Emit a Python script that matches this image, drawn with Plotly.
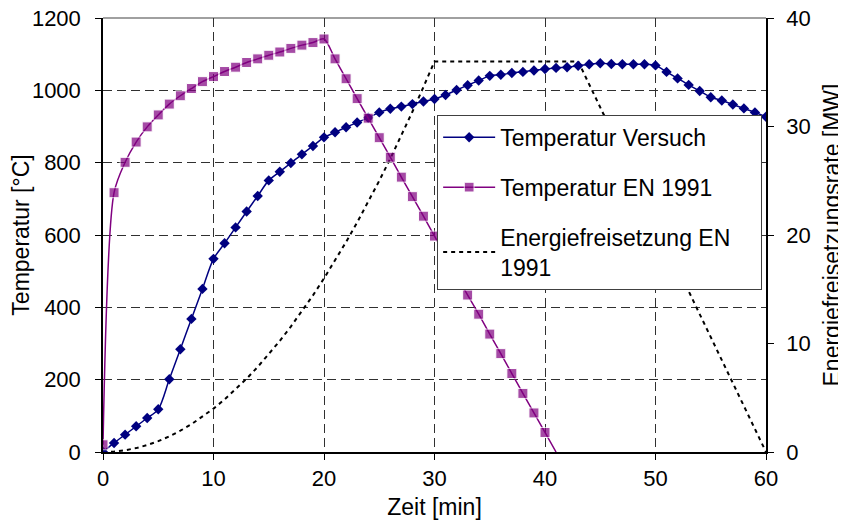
import plotly.graph_objects as go

# ---- data ----
zeit_versuch = list(range(61))
temp_versuch = [0, 25, 48, 71, 94, 118, 201, 284, 368, 451, 534, 577, 621, 665, 708, 751,
                775, 799, 823, 846, 870, 884, 898, 911, 924, 939, 949, 955, 962, 969, 976,
                987, 1001, 1014, 1027, 1040, 1043, 1048, 1051, 1055, 1059, 1062, 1064, 1068,
                1072, 1075, 1073, 1072, 1072, 1072, 1069, 1051, 1033, 1015, 998, 981, 972,
                961, 950, 939, 927]

zeit_en = list(range(42))
temp_en = [20, 717, 801, 857, 899, 932, 962, 985, 1005, 1024, 1038, 1052, 1064, 1077, 1087,
           1097, 1106, 1116, 1125, 1132, 1142, 1087, 1032, 977, 923, 869, 815, 760, 706, 652,
           597, 543, 488, 434, 381, 326, 272, 217, 162, 108, 54, 0]

zeit_energie = list(range(31)) + [43, 60]
energie = [0, 0.04, 0.16, 0.36, 0.64, 1.0, 1.44, 1.96, 2.56, 3.24, 4.0, 4.84, 5.76, 6.76,
           7.84, 9.0, 10.24, 11.56, 12.96, 14.44, 16.0, 17.64, 19.36, 21.16, 23.04, 25.0,
           27.04, 29.16, 31.36, 33.64, 36.0, 36.0, 0.0]

x_ticks = [0, 10, 20, 30, 40, 50, 60]
temp_ticks = [0, 200, 400, 600, 800, 1000, 1200]
energie_ticks = [0, 10, 20, 30, 40]

FONT = "Liberation Sans, Arial, sans-serif"
NAVY = "#000080"
PURPLE = "#800080"

fig = go.Figure()

fig.add_trace(go.Scatter(
    x=zeit_versuch, y=temp_versuch, name="Temperatur Versuch", yaxis="y2",
    mode="lines+markers", line=dict(color=NAVY, width=1.5, shape="spline", smoothing=0.8),
    marker=dict(symbol="diamond", size=8, color=NAVY),
    legendgroup="a", legendrank=1))

en_sizes = [10] * (len(zeit_en) - 1) + [0]
fig.add_trace(go.Scatter(
    x=zeit_en, y=temp_en, name="Temperatur EN 1991", yaxis="y2",
    mode="lines+markers", line=dict(color=PURPLE, width=1.5, shape="spline", smoothing=0.8),
    marker=dict(symbol="square", size=en_sizes, color=PURPLE),
    legendgroup="b", legendrank=2))

fig.add_trace(go.Scatter(
    x=zeit_energie, y=energie, name="Energiefreisetzung EN\u00a0\u00a0\u00a0\u00a0<br>1991",
    yaxis="y", mode="lines", line=dict(color="black", width=2, dash="4px,4px"),
    legendgroup="c", legendrank=3))

grid = dict(showgrid=True, gridcolor="#303030", gridwidth=1, griddash="9px,5px")

# the page body has an 8px margin, so the figure is made 8px smaller and the
# left/top margins are reduced to land the plot area where the reference has it
fig.update_layout(
    width=838, height=514,
    margin=dict(l=95, r=80, t=10, b=70),
    paper_bgcolor="white", plot_bgcolor="white",
    font=dict(family=FONT, size=22, color="black"),
    showlegend=True,
    legend=dict(
        x=0.504, y=0.777, xanchor="left", yanchor="top",
        bgcolor="white", bordercolor="#404040", borderwidth=1,
        font=dict(family=FONT, size=23, color="black"),
        tracegroupgap=17, traceorder="grouped", itemwidth=52,
    ),
    xaxis=dict(
        range=[0, 60], tickvals=x_ticks, ticks="outside", ticklen=6, tickcolor="black",
        showline=True, linecolor="black", linewidth=1.5, zeroline=False, automargin=False,
        ticklabeloverflow="allow",
        title=dict(text="Zeit [min]", standoff=9, font=dict(size=23)),
        **grid),
    yaxis=dict(
        range=[0, 40], tickvals=energie_ticks, side="right", ticks="outside", ticklen=6,
        tickcolor="black", showline=True, linecolor="black", linewidth=1.5,
        ticklabelstandoff=8, ticklabeloverflow="allow",
        showgrid=False, zeroline=False, automargin=False,
        title=dict(text="Energiefreisetzungsrate [MW]", standoff=14, font=dict(size=23))),
    yaxis2=dict(
        range=[0, 1200], tickvals=temp_ticks, side="left", overlaying="y", ticks="outside",
        ticklen=6, tickcolor="black", showline=True, linecolor="black", linewidth=1.5,
        ticklabelstandoff=10, ticklabeloverflow="allow",
        zeroline=False, automargin=False,
        title=dict(text="Temperatur [°C]", standoff=0, font=dict(size=23)),
        **grid),
    shapes=[dict(type="line", xref="paper", yref="paper", x0=0, x1=1, y0=1, y1=1,
                 line=dict(color="#808080", width=1.5), layer="below")],
)

fig.write_html("out.html")
